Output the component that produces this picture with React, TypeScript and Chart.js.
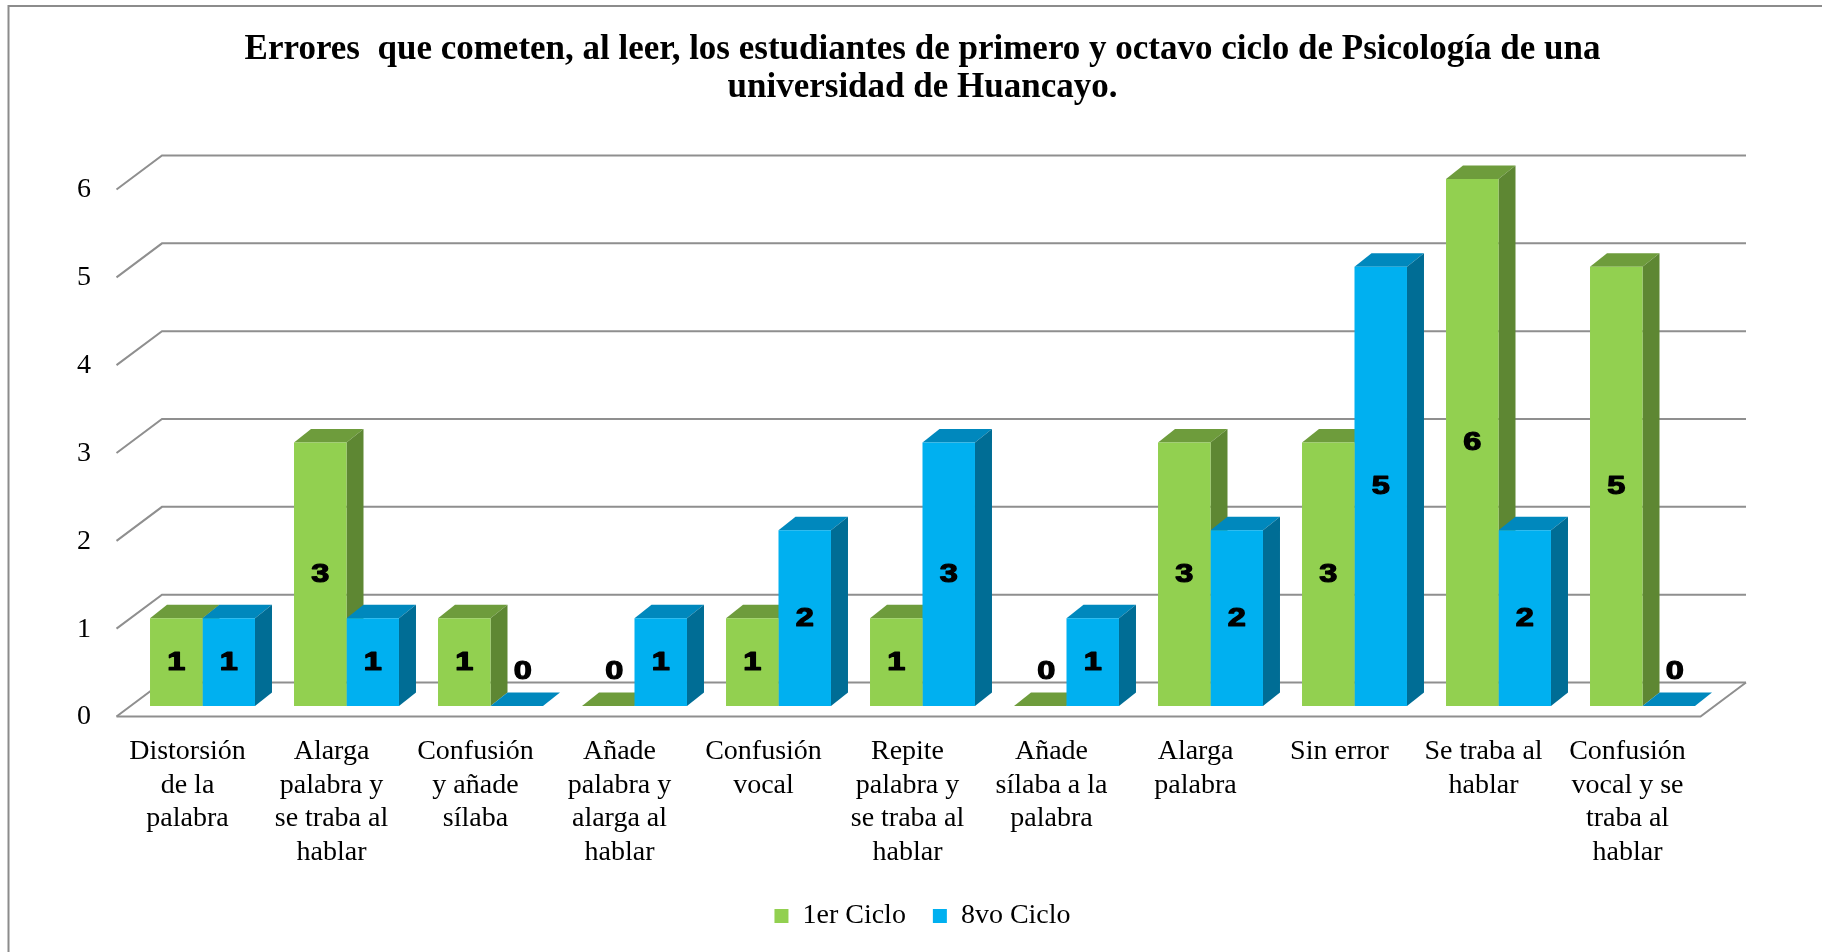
import { useEffect, useRef } from "react";
import { Chart, registerables } from "chart.js";

Chart.register(...registerables);

// ---------- data ----------
const titleLines = [
  "Errores  que cometen, al leer, los estudiantes de primero y octavo ciclo de Psicología de una",
  "universidad de Huancayo.",
];
const categories: string[][] = [
  ["Distorsión", "de la", "palabra"],
  ["Alarga", "palabra y", "se traba al", "hablar"],
  ["Confusión", "y añade", "sílaba"],
  ["Añade", "palabra y", "alarga al", "hablar"],
  ["Confusión", "vocal"],
  ["Repite", "palabra y", "se traba al", "hablar"],
  ["Añade", "sílaba a la", "palabra"],
  ["Alarga", "palabra"],
  ["Sin error"],
  ["Se traba al", "hablar"],
  ["Confusión", "vocal y se", "traba al", "hablar"],
];
const seriesNames = ["1er Ciclo", "8vo Ciclo"];
const ciclo1 = [1, 3, 1, 0, 1, 1, 0, 3, 3, 6, 5];
const ciclo8 = [1, 1, 0, 1, 2, 3, 1, 2, 5, 2, 0];
const yMin = 0;
const yMax = 6;
const yStep = 1;

// ---------- styles ----------
const GREEN = { front: "#92D050", top: "#6E9C3C", side: "#5E8733" };
const BLUE = { front: "#00B0F0", top: "#0088BD", side: "#006D95" };
const FACES = [GREEN, BLUE];
const GRID_COLOR = "#8f8f8f";
const FRAME_COLOR = "#8c8c8c";
// 3D geometry offsets (px)
const BACK_DX = 31.5, BACK_DY = -23.5; // back wall vs bar front plane
const FRONT_DX = -14, FRONT_DY = 10.5; // front edge vs bar front plane
const DEPTH_DX = 17, DEPTH_DY = -13.5; // bar depth

const framePlugin = {
  id: "frame",
  beforeDraw(chart: any) {
    const { ctx, width, height } = chart;
    ctx.save();
    ctx.strokeStyle = FRAME_COLOR;
    ctx.lineWidth = 2;
    ctx.beginPath();
    ctx.moveTo(8.5, height);
    ctx.lineTo(8.5, 6);
    ctx.lineTo(width, 6);
    ctx.stroke();
    ctx.restore();
  },
};

const poly = (ctx: any, pts: number[][], color: string) => {
  ctx.beginPath();
  ctx.moveTo(pts[0][0], pts[0][1]);
  for (let i = 1; i < pts.length; i++) ctx.lineTo(pts[i][0], pts[i][1]);
  ctx.closePath();
  ctx.fillStyle = color;
  ctx.fill();
};

const threeDPlugin = {
  id: "threeD",
  beforeDatasetsDraw(chart: any) {
    const { ctx, chartArea, scales } = chart;
    const y = scales.y;
    const L = chartArea.left, R = chartArea.right;
    ctx.save();
    ctx.strokeStyle = GRID_COLOR;
    ctx.lineWidth = 2;
    // back wall grid + side wall diagonals
    for (const t of y.ticks) {
      const yp = y.getPixelForValue(t.value);
      ctx.beginPath();
      ctx.moveTo(L + FRONT_DX, yp + FRONT_DY);
      ctx.lineTo(L + BACK_DX, yp + BACK_DY);
      ctx.lineTo(R + BACK_DX, yp + BACK_DY);
      ctx.stroke();
    }
    // floor front edge + right edge
    const y0 = y.getPixelForValue(yMin);
    ctx.beginPath();
    ctx.moveTo(L + FRONT_DX, y0 + FRONT_DY);
    ctx.lineTo(R + FRONT_DX, y0 + FRONT_DY);
    ctx.lineTo(R + BACK_DX, y0 + BACK_DY);
    ctx.stroke();

    // top + side faces of the bars
    const metas = [chart.getDatasetMeta(0), chart.getDatasetMeta(1)];
    const n = metas[0].data.length;
    for (let j = 0; j < n; j++) {
      metas.forEach((meta: any, i: number) => {
        const el = meta.data[j];
        const { x, y: top, base, width } = el.getProps(["x", "y", "base", "width"], true);
        const l = x - width / 2, r = x + width / 2;
        const c = FACES[i];
        poly(ctx, [[l, top], [r, top], [r + DEPTH_DX, top + DEPTH_DY], [l + DEPTH_DX, top + DEPTH_DY]], c.top);
        if (base - top > 0.5) {
          poly(ctx, [[r, top], [r + DEPTH_DX, top + DEPTH_DY], [r + DEPTH_DX, base + DEPTH_DY], [r, base]], c.side);
        }
      });
    }
    ctx.restore();
  },
  afterDatasetsDraw(chart: any) {
    const { ctx } = chart;
    ctx.save();
    ctx.font = "bold 25px 'Liberation Sans', Arial, sans-serif";
    ctx.fillStyle = "#000";
    ctx.strokeStyle = "#000";
    ctx.lineWidth = 1.2;
    ctx.lineJoin = "round";
    ctx.textAlign = "center";
    ctx.textBaseline = "middle";
    chart.data.datasets.forEach((ds: any, i: number) => {
      const meta = chart.getDatasetMeta(i);
      meta.data.forEach((el: any, j: number) => {
        const v = ds.data[j];
        const { x, y: top, base } = el.getProps(["x", "y", "base"], true);
        const tx = v > 0 ? x : x + 6;
        const ty = v > 0 ? (top + base) / 2 + 1 : base - 34;
        ctx.save();
        ctx.translate(tx, ty);
        ctx.scale(1.3, 1);
        ctx.fillText(String(v), 0, 0);
        ctx.strokeText(String(v), 0, 0);
        ctx.restore();
      });
    });
    ctx.restore();
  },
};

export default function App() {
  const ref = useRef<HTMLCanvasElement | null>(null);
  useEffect(() => {
    document.body.style.margin = "0";
    const canvas = ref.current;
    if (!canvas) return;
    const serif = "'Liberation Serif', 'Times New Roman', serif";
    const chart = new Chart(canvas, {
      type: "bar",
      data: {
        labels: categories,
        datasets: [
          { label: seriesNames[0], data: ciclo1, backgroundColor: GREEN.front, borderWidth: 0, categoryPercentage: 0.729, barPercentage: 1 },
          { label: seriesNames[1], data: ciclo8, backgroundColor: BLUE.front, borderWidth: 0, categoryPercentage: 0.729, barPercentage: 1 },
        ],
      },
      options: {
        responsive: false,
        animation: false,
        events: [],
        layout: { padding: { top: 0, left: 60, right: 107.5, bottom: 12 } },
        plugins: {
          title: {
            display: true,
            fullSize: false,
            text: titleLines,
            color: "#000",
            font: { family: serif, size: 35, weight: "bold", lineHeight: 1.1 },
            padding: { top: 30.6, bottom: 71.4 },
          },
          legend: {
            position: "bottom",
            fullSize: false,
            labels: {
              color: "#000",
              font: { family: serif, size: 28 },
              boxWidth: 14,
              boxHeight: 14,
              padding: 27,
            },
          },
          tooltip: { enabled: false },
        },
        scales: {
          x: {
            grid: { display: false, drawTicks: false },
            border: { display: false },
            ticks: {
              color: "#000",
              font: { family: serif, size: 28, lineHeight: 1.2 },
              padding: 29,
              labelOffset: -15,
              maxRotation: 0,
              minRotation: 0,
              autoSkip: false,
            },
            afterFit: (s: any) => { s.height = 169; },
          },
          y: {
            min: yMin,
            max: yMax,
            grid: { display: false, drawTicks: false },
            border: { display: false },
            ticks: {
              stepSize: yStep,
              color: "#000",
              font: { family: serif, size: 28 },
              padding: 39.5,
              labelOffset: 11,
            },
            afterFit: (s: any) => { s.width = 70.5; },
          },
        },
      } as any,
      plugins: [framePlugin, threeDPlugin],
    });
    return () => chart.destroy();
  }, []);
  return (
    <div style={{ position: "absolute", left: 0, top: 0, width: 1822, height: 952 }}>
      <canvas ref={ref} width={1822} height={952} style={{ display: "block" }} />
    </div>
  );
}
